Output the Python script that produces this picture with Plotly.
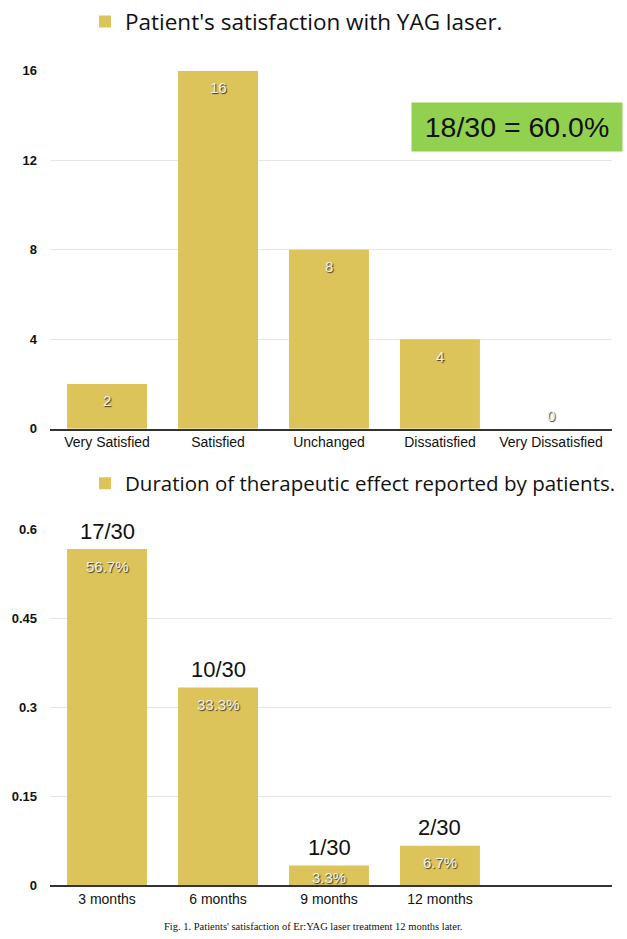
import plotly.graph_objects as go

# ---------------- data ----------------
sat_categories = ["Very Satisfied", "Satisfied", "Unchanged", "Dissatisfied", "Very Dissatisfied"]
sat_counts = [2, 16, 8, 4, 0]
sat_yticks = [0, 4, 8, 12, 16]

dur_categories = ["3 months", "6 months", "9 months", "12 months"]
dur_counts = [17, 10, 1, 2]
dur_yticks = [0, 0.15, 0.3, 0.45, 0.6]
dur_yticktext = ["0", "0.15", "0.3", "0.45", "0.6"]

total_patients = 30
sat_title = "Patient's satisfaction with YAG laser."
dur_title = "Duration of therapeutic effect reported by patients."
caption = "Fig. 1. Patients' satisfaction of Er:YAG laser treatment 12 months later."

dur_share = [c / total_patients for c in dur_counts]
satisfied_total = sat_counts[0] + sat_counts[1]

# ---------------- style ----------------
W, H = 627, 939
GOLD = "#dcc35a"
GRID = "#e6e6e6"
AXIS = "#333333"
SANS = "Liberation Sans, Arial, sans-serif"
LEG = "Open Sans, Noto Sans, sans-serif"

def px_x(p):
    return p / W

def px_y(p):
    return 1 - p / H

XDOM = [px_x(50), px_x(612)]
XRANGE = [-0.514, 4.55]

fig = go.Figure()
fig.add_trace(go.Bar(
    x=sat_categories, y=sat_counts, name=sat_title,
    marker=dict(color=GOLD, line=dict(width=0)), width=0.72,
    xaxis="x", yaxis="y", legend="legend", showlegend=True,
))
fig.add_trace(go.Bar(
    x=dur_categories, y=dur_share, name=dur_title,
    marker=dict(color=GOLD, line=dict(width=0)), width=0.72,
    xaxis="x2", yaxis="y2", legend="legend2", showlegend=True,
))

inner_font = dict(family=SANS, size=15, color="#f2f2ec",
                  shadow="1px 1px 1px rgba(40,40,30,0.9)")
annotations = []

# top chart value labels
for c, v in zip(sat_categories, sat_counts):
    annotations.append(dict(
        x=c, y=v, xref="x", yref="y", text=str(v), showarrow=False,
        yanchor="middle", yshift=(-17 if v > 0 else 13), font=inner_font,
    ))

# bottom chart labels
plot2_h = 885 - 528
for c, n, s in zip(dur_categories, dur_counts, dur_share):
    annotations.append(dict(
        x=c, y=s, xref="x2", yref="y2", text=f"{n}/{total_patients}",
        showarrow=False, yanchor="middle", yshift=18,
        font=dict(family=SANS, size=22, color="#111111"),
    ))
    bar_px = s / dur_yticks[-1] * plot2_h
    annotations.append(dict(
        x=c, y=s, xref="x2", yref="y2", text=f"{s*100:.1f}%",
        showarrow=False, yanchor="middle", yshift=-min(17, bar_px - 8),
        font=inner_font,
    ))

# green summary box
annotations.append(dict(
    x=px_x(517), y=px_y(124), xref="paper", yref="paper",
    text=f"{satisfied_total}/{total_patients} = {satisfied_total/total_patients*100:.1f}%",
    showarrow=False, xanchor="center", yanchor="middle",
    bgcolor="#92d050", width=208, height=46, borderpad=1,
    font=dict(family=SANS, size=28.5, color="#111111"),
))

# caption
annotations.append(dict(
    x=px_x(313), y=px_y(926), xref="paper", yref="paper", text=caption,
    showarrow=False, xanchor="center", yanchor="middle",
    font=dict(family="Liberation Serif, Times New Roman, serif", size=10.5, color="#111111"),
))

xaxis_common = dict(
    domain=XDOM, range=XRANGE, type="category", showgrid=False,
    showline=True, linecolor=AXIS, linewidth=2, ticks="",
    tickfont=dict(family=SANS, size=14, color="#111111"),
    automargin=False, fixedrange=True,
)
yaxis_common = dict(
    showgrid=True, gridcolor=GRID, gridwidth=1, zeroline=False,
    showline=False, ticks="", ticklabelstandoff=12,
    tickfont=dict(family=SANS, size=13, color="#111111", weight="bold"),
    automargin=False, fixedrange=True,
)

fig.update_layout(
    width=W, height=H, template="none",
    paper_bgcolor="white", plot_bgcolor="white",
    margin=dict(l=0, r=0, t=0, b=0),
    barmode="group",
    xaxis=dict(anchor="y", **xaxis_common),
    yaxis=dict(anchor="x", domain=[px_y(427), px_y(68)], range=[0, 16],
               tickvals=sat_yticks, **yaxis_common),
    xaxis2=dict(anchor="y2", **xaxis_common),
    yaxis2=dict(anchor="x2", domain=[px_y(885), px_y(528)], range=[0, 0.6],
                tickvals=dur_yticks, ticktext=dur_yticktext, **yaxis_common),
    legend=dict(x=px_x(85), y=px_y(19), xanchor="left", yanchor="middle",
                font=dict(family=LEG, size=22.5, color="#111111"),
                bgcolor="rgba(0,0,0,0)", borderwidth=0),
    legend2=dict(x=px_x(85), y=px_y(482), xanchor="left", yanchor="middle",
                 font=dict(family=LEG, size=20.5, color="#111111"),
                 bgcolor="rgba(0,0,0,0)", borderwidth=0),
    annotations=annotations,
    showlegend=True,
)

fig.write_html("out.html", config={"displayModeBar": False},
               post_script="document.body.style.margin='0px';")
